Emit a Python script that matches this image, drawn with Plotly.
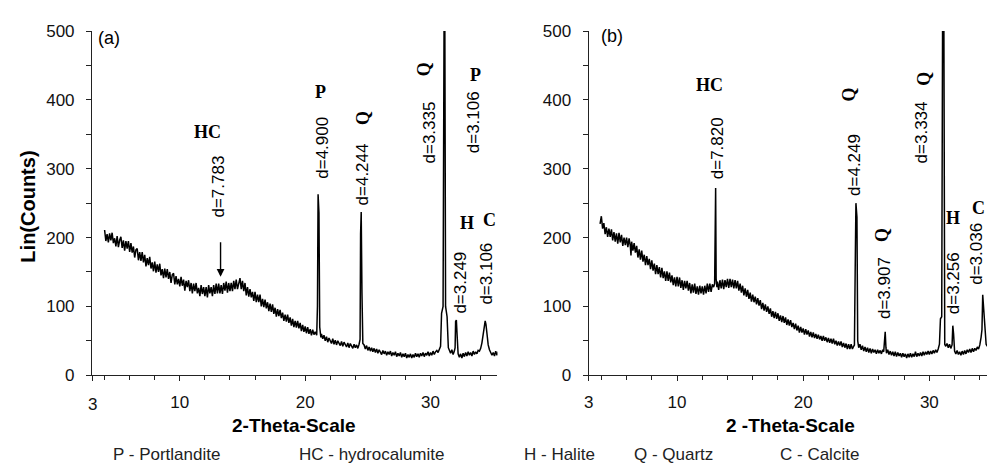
import plotly.graph_objects as go

W, H = 987, 474

# ---------------- data: panel (a)  (2-theta in degrees, counts) ----------------
theta_a = [
    4.0, 4.1, 4.2, 4.3, 4.4, 4.5, 4.6, 4.7, 4.8, 4.9,
    5.0, 5.1, 5.2, 5.3, 5.4, 5.5, 5.6, 5.7, 5.8, 5.9,
    6.0, 6.1, 6.2, 6.3, 6.4, 6.5, 6.6, 6.7, 6.8, 6.9,
    7.0, 7.1, 7.2, 7.3, 7.4, 7.5, 7.6, 7.7, 7.8, 7.9,
    8.0, 8.1, 8.2, 8.3, 8.4, 8.5, 8.6, 8.7, 8.8, 8.9,
    9.0, 9.1, 9.2, 9.3, 9.4, 9.5, 9.6, 9.7, 9.8, 9.9,
    10.0, 10.1, 10.2, 10.3, 10.4, 10.5, 10.6, 10.7, 10.8, 10.9,
    11.0, 11.1, 11.2, 11.3, 11.4, 11.5, 11.6, 11.7, 11.8, 11.9,
    12.0, 12.1, 12.2, 12.3, 12.4, 12.5, 12.6, 12.7, 12.8, 12.9,
    13.0, 13.1, 13.2, 13.3, 13.4, 13.5, 13.6, 13.7, 13.8, 13.9,
    14.0, 14.1, 14.2, 14.3, 14.4, 14.5, 14.6, 14.7, 14.8, 14.9,
    15.0, 15.1, 15.2, 15.3, 15.4, 15.5, 15.6, 15.7, 15.8, 15.9,
    16.0, 16.1, 16.2, 16.3, 16.4, 16.5, 16.6, 16.7, 16.8, 16.9,
    17.0, 17.1, 17.2, 17.3, 17.4, 17.5, 17.6, 17.7, 17.8, 17.9,
    18.0, 18.1, 18.2, 18.3, 18.4, 18.5, 18.6, 18.7, 18.8, 18.9,
    19.0, 19.1, 19.2, 19.3, 19.4, 19.5, 19.6, 19.7, 19.8, 19.9,
    20.0, 20.1, 20.2, 20.3, 20.4, 20.5, 20.6, 20.7, 20.8,
    20.92, 20.98, 21.03, 21.1, 21.16, 21.25,
    21.3, 21.4, 21.5, 21.6, 21.7, 21.8, 21.9, 22.0, 22.1, 22.2,
    22.3, 22.4, 22.5, 22.6, 22.7, 22.8, 22.9, 23.0, 23.1, 23.2,
    23.3, 23.4, 23.5, 23.6, 23.7, 23.8, 23.9, 24.0, 24.1, 24.2, 24.3,
    24.38, 24.42, 24.47, 24.53, 24.6,
    24.7, 24.8, 24.9, 25.0, 25.1, 25.2, 25.3, 25.4, 25.5, 25.6,
    25.7, 25.8, 25.9, 26.0, 26.1, 26.2, 26.3, 26.4, 26.5, 26.6,
    26.7, 26.8, 26.9, 27.0, 27.1, 27.2, 27.3, 27.4, 27.5, 27.6,
    27.7, 27.8, 27.9, 28.0, 28.1, 28.2, 28.3, 28.4, 28.5, 28.6,
    28.7, 28.8, 28.9, 29.0, 29.1, 29.2, 29.3, 29.4, 29.5, 29.6,
    29.7, 29.8, 29.9, 30.0, 30.1, 30.2, 30.3, 30.4, 30.5, 30.6, 30.7,
    30.8, 30.88, 31.0, 31.08, 31.14, 31.2, 31.32, 31.42,
    31.5, 31.6, 31.7, 31.8, 31.9, 31.96, 32.0, 32.06, 32.12,
    32.2, 32.3, 32.4, 32.5, 32.6, 32.7, 32.8, 32.9, 33.0, 33.1,
    33.2, 33.3, 33.4, 33.5, 33.6, 33.7, 33.8, 33.9, 34.0, 34.1,
    34.2, 34.3, 34.36, 34.42, 34.5, 34.6, 34.7, 34.8, 34.9,
    35.0, 35.1, 35.2, 35.3, 35.4, 35.5,
]
counts_a = [
    211, 195, 205, 193, 206, 196, 207, 192, 199, 187,
    202, 186, 196, 201, 185, 196, 181, 195, 184, 195,
    179, 192, 178, 187, 171, 182, 184, 167, 179, 166,
    179, 164, 175, 158, 170, 160, 172, 155, 164, 151,
    165, 149, 161, 150, 162, 145, 154, 141, 155, 142,
    154, 140, 150, 134, 146, 148, 132, 144, 132, 140,
    129, 143, 130, 139, 123, 137, 128, 138, 122, 134,
    119, 133, 122, 134, 119, 127, 115, 131, 118, 128,
    115, 128, 113, 131, 119, 128, 115, 131, 118, 133,
    119, 133, 119, 131, 118, 134, 123, 136, 120, 134,
    122, 134, 122, 137, 125, 139, 125, 136, 141, 125,
    137, 122, 134, 116, 128, 114, 125, 113, 121, 108,
    121, 106, 117, 106, 117, 100, 111, 99, 110, 97,
    106, 93, 104, 92, 103, 89, 98, 85, 96, 86,
    95, 83, 91, 79, 88, 78, 88, 76, 84, 72,
    82, 70, 79, 69, 79, 68, 76, 64, 73, 63,
    71, 61, 70, 60, 67, 58, 66, 59, 63,
    58, 100, 263, 236, 70, 55,
    60, 53, 58, 50, 56, 48, 54, 49, 46, 53,
    45, 51, 44, 50, 46, 43, 49, 42, 48, 44,
    41, 47, 40, 46, 42, 39, 45, 40, 44, 39, 45,
    52, 205, 237, 120, 46,
    44, 38, 43, 36, 41, 35, 40, 34, 39, 33,
    38, 32, 37, 34, 30, 36, 31, 35, 29, 34,
    30, 35, 28, 33, 29, 34, 27, 32, 28, 33,
    26, 31, 27, 32, 25, 30, 26, 31, 25, 30,
    26, 32, 27, 31, 26, 32, 28, 33, 27, 32,
    29, 34, 28, 33, 29, 35, 30, 34, 36, 33, 38,
    42, 90, 100, 520, 520, 100, 85, 40,
    36, 32, 37, 30, 35, 40, 78, 80, 58,
    31, 26, 31, 25, 32, 27, 33, 28, 34, 29,
    33, 28, 35, 30, 34, 31, 36, 35, 39, 47,
    62, 76, 79, 74, 58, 44, 37, 33, 29,
    33, 28, 35, 29, 34, 30,
]

# ---------------- data: panel (b) ----------------
theta_b = [
    3.9, 4.0, 4.1, 4.2, 4.3, 4.4, 4.5, 4.6, 4.7, 4.8, 4.9,
    5.0, 5.1, 5.2, 5.3, 5.4, 5.5, 5.6, 5.7, 5.8, 5.9,
    6.0, 6.1, 6.2, 6.3, 6.35, 6.4, 6.5, 6.6, 6.7, 6.8, 6.9,
    7.0, 7.1, 7.2, 7.3, 7.4, 7.5, 7.6, 7.7, 7.8, 7.9,
    8.0, 8.1, 8.2, 8.3, 8.4, 8.5, 8.6, 8.7, 8.8, 8.9,
    9.0, 9.1, 9.2, 9.3, 9.4, 9.5, 9.6, 9.7, 9.8, 9.9,
    10.0, 10.1, 10.2, 10.3, 10.4, 10.5, 10.6, 10.7, 10.8, 10.9,
    11.0, 11.1, 11.2, 11.3, 11.4, 11.5, 11.6, 11.7, 11.8, 11.9,
    12.0, 12.1, 12.2, 12.3, 12.4, 12.5, 12.6, 12.7, 12.8, 12.9,
    12.98, 13.02, 13.06, 13.1, 13.16,
    13.2, 13.3, 13.4, 13.5, 13.6, 13.7, 13.8, 13.9, 14.0, 14.1,
    14.2, 14.3, 14.4, 14.5, 14.6, 14.7, 14.8, 14.9, 15.0, 15.1,
    15.2, 15.3, 15.4, 15.5, 15.6, 15.7, 15.8, 15.9, 16.0, 16.1,
    16.2, 16.3, 16.4, 16.5, 16.6, 16.7, 16.8, 16.9, 17.0, 17.1,
    17.2, 17.3, 17.4, 17.5, 17.6, 17.7, 17.8, 17.9, 18.0, 18.1,
    18.2, 18.3, 18.4, 18.5, 18.6, 18.7, 18.8, 18.9, 19.0, 19.1,
    19.2, 19.3, 19.4, 19.5, 19.6, 19.7, 19.8, 19.9, 20.0, 20.1,
    20.2, 20.3, 20.4, 20.5, 20.6, 20.7, 20.8, 20.9, 21.0, 21.1,
    21.2, 21.3, 21.4, 21.5, 21.6, 21.7, 21.8, 21.9, 22.0, 22.1,
    22.2, 22.3, 22.4, 22.5, 22.6, 22.7, 22.8, 22.9, 23.0, 23.1,
    23.2, 23.3, 23.4, 23.5, 23.6, 23.7, 23.8, 23.9, 24.0,
    24.06, 24.12, 24.18, 24.26, 24.32, 24.4,
    24.5, 24.6, 24.7, 24.8, 24.9, 25.0, 25.1, 25.2, 25.3, 25.4,
    25.5, 25.6, 25.7, 25.8, 25.9, 26.0, 26.1, 26.2, 26.3,
    26.38, 26.45, 26.5, 26.56,
    26.6, 26.7, 26.8, 26.9, 27.0, 27.1, 27.2, 27.3, 27.4, 27.5,
    27.6, 27.7, 27.8, 27.9, 28.0, 28.1, 28.2, 28.3, 28.4, 28.5,
    28.6, 28.7, 28.8, 28.9, 29.0, 29.1, 29.2, 29.3, 29.4, 29.5,
    29.6, 29.7, 29.8, 29.9, 30.0, 30.1, 30.2, 30.3, 30.4, 30.5, 30.6, 30.7,
    30.8, 30.88, 30.98, 31.05, 31.15, 31.22, 31.3,
    31.4, 31.5, 31.6, 31.7, 31.8, 31.86, 31.92, 32.0,
    32.1, 32.2, 32.3, 32.4, 32.5, 32.6, 32.7, 32.8, 32.9, 33.0,
    33.1, 33.2, 33.3, 33.4, 33.5, 33.6, 33.7, 33.8, 33.9, 34.0,
    34.1, 34.17, 34.23, 34.3, 34.4, 34.5, 34.6,
]
counts_b = [
    220, 231, 213, 221, 205, 215, 201, 213, 201, 212, 196,
    208, 194, 206, 191, 207, 193, 204, 188, 200, 189,
    200, 186, 199, 187, 174, 194, 181, 192, 178, 188, 171,
    183, 168, 181, 165, 175, 160, 173, 160, 169, 154,
    167, 152, 162, 147, 160, 147, 157, 142, 156, 141,
    151, 137, 151, 137, 149, 135, 145, 131, 142, 129,
    143, 129, 142, 127, 138, 124, 137, 126, 137, 123,
    134, 119, 132, 120, 133, 118, 129, 117, 130, 119,
    129, 117, 130, 119, 133, 121, 133, 121, 132, 128,
    133, 215, 272, 140, 128,
    136, 124, 138, 126, 139, 125, 138, 128, 140, 127,
    140, 128, 139, 126, 138, 126, 137, 123, 133, 120,
    130, 116, 126, 114, 124, 111, 120, 107, 117, 106,
    114, 103, 112, 101, 109, 96, 105, 94, 103, 92,
    100, 89, 97, 85, 93, 83, 92, 82, 90, 79,
    87, 77, 86, 76, 84, 73, 81, 72, 80, 70,
    76, 67, 75, 65, 72, 62, 70, 62, 68, 59,
    67, 59, 65, 56, 63, 55, 62, 54, 60, 53,
    59, 52, 57, 50, 57, 50, 55, 48, 54, 47,
    53, 46, 53, 45, 50, 43, 49, 43, 49, 41,
    47, 40, 46, 38, 45, 38, 45, 38, 42,
    44, 150, 250, 230, 50, 40,
    45, 37, 43, 35, 41, 34, 40, 33, 39, 32,
    38, 33, 37, 31, 37, 32, 36, 31, 37,
    34, 55, 63, 40,
    32, 37, 30, 35, 29, 34, 28, 34, 27, 33,
    28, 32, 26, 32, 27, 31, 25, 31, 26, 32,
    26, 31, 27, 34, 27, 32, 28, 33, 28, 34,
    29, 34, 30, 35, 30, 35, 31, 36, 32, 37, 33, 38,
    45, 82, 85, 520, 520, 45, 42,
    46, 40, 45, 39, 44, 72, 60, 35,
    31, 36, 30, 34, 29, 35, 30, 36, 31, 37,
    33, 38, 33, 39, 34, 39, 36, 41, 38, 44,
    55, 66, 117, 95, 60, 45, 42,
]
assert len(theta_a) == len(counts_a), (len(theta_a), len(counts_a))
assert len(theta_b) == len(counts_b), (len(theta_b), len(counts_b))

# tick values / labels
y_major = [0, 100, 200, 300, 400, 500]
y_minor = [50, 150, 250, 350, 450]
x_major_a = [3, 10, 20, 30]
x_text_a = ["", "10", "20", "30"]
x_major_b = [3, 10, 20, 30]
x_text_b = ["3", "10", "20", "30"]
x_minor = [4, 6, 8, 12, 14, 16, 18, 22, 24, 26, 28, 32, 34]

legend_items = ["P - Portlandite", "HC - hydrocalumite", "H - Halite", "Q - Quartz", "C - Calcite"]


def pxx(x):
    return x / W


def pxy(y):
    return 1 - y / H


SANS = "Liberation Sans, Arial, sans-serif"
SERIF = "Liberation Serif, Times New Roman, serif"
AX = "#222"

fig = go.Figure()
fig.add_trace(go.Scatter(x=theta_a, y=counts_a, mode="lines",
                         line=dict(color="black", width=1.5), xaxis="x", yaxis="y",
                         showlegend=False, hoverinfo="skip"))
fig.add_trace(go.Scatter(x=theta_b, y=counts_b, mode="lines",
                         line=dict(color="black", width=1.5), xaxis="x2", yaxis="y2",
                         showlegend=False, hoverinfo="skip"))

ydom = [pxy(381.5), pxy(23)]
xa_dom = [pxx(87.5), pxx(495)]
xb_dom = [pxx(586.7), 1.0]
xa_range = [3, 3 + (495 - 87.5) / 12.6]
xb_range = [3, 3 + (987 - 586.7) / 12.68]


def xaxis(dom, rng, tv, tt, anchor):
    return dict(domain=dom, range=rng, anchor=anchor, showgrid=False, zeroline=False,
                showline=True, linecolor=AX, linewidth=1.2, ticks="outside", ticklen=5,
                tickwidth=1.2, tickcolor=AX, tickmode="array", tickvals=tv, ticktext=tt,
                tickfont=dict(family=SANS, size=17, color="#111"), ticklabelstandoff=6,
                minor=dict(tickmode="array", tickvals=x_minor, ticks="outside", ticklen=4,
                           tickwidth=1.2, tickcolor=AX, showgrid=False))


def yaxis(dom, anchor):
    return dict(domain=dom, range=[0, 500], anchor=anchor, showgrid=False, zeroline=False,
                showline=True, linecolor=AX, linewidth=1.2, ticks="outside", ticklen=5,
                tickwidth=1.2, tickcolor=AX, tickmode="array", tickvals=y_major,
                tickfont=dict(family=SANS, size=17, color="#111"), ticklabelstandoff=8,
                minor=dict(tickmode="array", tickvals=y_minor, ticks="outside", ticklen=5,
                           tickwidth=1.2, tickcolor=AX, showgrid=False))


ann = []


def phase(text, x, y, xref, yref, rot=0):
    ann.append(dict(text="<b>%s</b>" % text, x=x, y=y, xref=xref, yref=yref, showarrow=False,
                    textangle=rot, font=dict(family=SERIF, size=18, color="black"),
                    xanchor="center", yanchor="middle"))


def dlab(text, x, y, xref, yref):
    ann.append(dict(text=text, x=x, y=y, xref=xref, yref=yref, showarrow=False, textangle=-90,
                    font=dict(family=SANS, size=17, color="black"),
                    xanchor="center", yanchor="middle"))


# panel (a) labels
phase("HC", 12.19, 353, "x", "y")
dlab("d=7.783", 13.12, 274, "x", "y")
phase("P", 21.25, 411, "x", "y")
dlab("d=4.900", 21.37, 331, "x", "y")
phase("Q", 24.63, 374, "x", "y", -90)
dlab("d=4.244", 24.55, 292, "x", "y")
phase("Q", 29.45, 444, "x", "y", -90)
dlab("d=3.335", 29.92, 352, "x", "y")
phase("P", 33.56, 436, "x", "y")
dlab("d=3.106", 33.49, 368, "x", "y")
phase("H", 32.87, 221, "x", "y")
phase("C", 34.68, 226, "x", "y")
dlab("d=3.249", 32.4, 134, "x", "y")
dlab("d=3.106", 34.39, 147, "x", "y")
ann.append(dict(x=13.25, y=143, xref="x", yref="y", ax=0, ay=-36, text="", showarrow=True,
                arrowhead=2, arrowsize=1.1, arrowwidth=1.4, arrowcolor="black"))

# panel (b) labels
phase("HC", 12.59, 421, "x2", "y2")
dlab("d=7.820", 13.18, 330, "x2", "y2")
phase("Q", 23.63, 408, "x2", "y2", -90)
dlab("d=4.249", 24.08, 305, "x2", "y2")
phase("Q", 26.26, 204, "x2", "y2", -90)
dlab("d=3.907", 26.45, 126, "x2", "y2")
phase("Q", 29.52, 431, "x2", "y2", -90)
dlab("d=3.334", 29.35, 353, "x2", "y2")
phase("H", 31.91, 228, "x2", "y2")
dlab("d=3.256", 31.97, 134, "x2", "y2")
phase("C", pxx(978), pxy(207), "paper", "paper")
dlab("d=3.036", pxx(977), pxy(255), "paper", "paper")

# panel tags
for t, xp, yp in [("(a)", 105, 30), ("(b)", 610, 28)]:
    ann.append(dict(text=t, x=pxx(xp), y=pxy(yp), xref="paper", yref="paper", showarrow=False,
                    font=dict(family=SANS, size=18, color="black"), xanchor="center", yanchor="middle"))

# lone "3" tick label of panel (a), printed lower than the others
ann.append(dict(text="3", x=3, y=pxy(412), xref="x", yref="paper", showarrow=False,
                font=dict(family=SANS, size=17, color="#111"), xanchor="center", yanchor="middle"))

# axis titles
ann.append(dict(text="<b>2-Theta-Scale</b>", x=pxx(290), y=pxy(434), xref="paper", yref="paper",
                showarrow=False, font=dict(family=SANS, size=19, color="black"),
                xanchor="center", yanchor="middle"))
ann.append(dict(text="<b>2 -Theta-Scale</b>", x=pxx(790), y=pxy(434), xref="paper", yref="paper",
                showarrow=False, font=dict(family=SANS, size=19, color="black"),
                xanchor="center", yanchor="middle"))
ann.append(dict(text="<b>Lin(Counts)</b>", x=pxx(23), y=pxy(206), xref="paper", yref="paper",
                showarrow=False, textangle=-90, font=dict(family=SANS, size=20, color="black"),
                xanchor="center", yanchor="middle"))

# key line
for t, xs in zip(legend_items, [107, 293, 520, 630, 777]):
    ann.append(dict(text=t, x=pxx(xs), y=pxy(464), xref="paper", yref="paper", showarrow=False,
                    font=dict(family=SANS, size=17, color="#222"), xanchor="left", yanchor="middle"))

fig.update_layout(
    width=W, height=H, margin=dict(l=0, r=0, t=0, b=0),
    paper_bgcolor="white", plot_bgcolor="white", showlegend=False,
    xaxis=xaxis(xa_dom, xa_range, x_major_a, x_text_a, "y"),
    yaxis=yaxis(ydom, "x"),
    xaxis2=xaxis(xb_dom, xb_range, x_major_b, x_text_b, "y2"),
    yaxis2=yaxis(ydom, "x2"),
    annotations=ann,
)

fig.write_html("out.html", config={"displayModeBar": False})
with open("out.html", "r", encoding="utf-8") as f:
    html = f.read()
html = html.replace("<head>", "<head><style>html,body{margin:0;padding:0;overflow:hidden}</style>", 1)
with open("out.html", "w", encoding="utf-8") as f:
    f.write(html)
